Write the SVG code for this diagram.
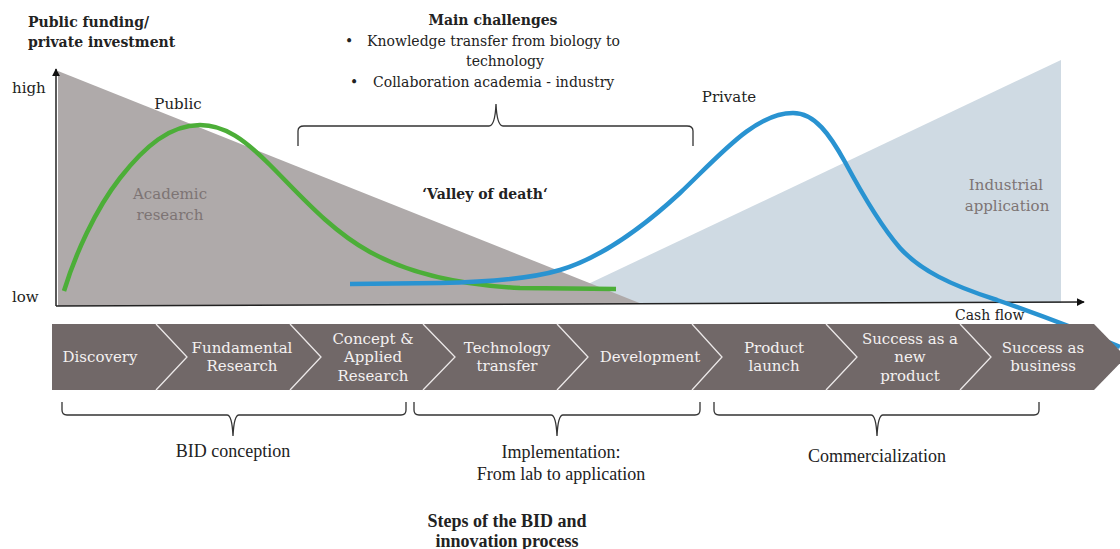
<svg xmlns="http://www.w3.org/2000/svg" width="1120" height="549" viewBox="0 0 1120 549">
<defs>
<style>
text{font-family:"DejaVu Serif","Liberation Serif",serif;fill:#222}
.b{font-weight:bold}
.t14{font-size:14px}
.t15{font-size:15px}
.grey{fill:#7d7474}
.step{font-size:15px;fill:#f4f1f1;text-anchor:middle}
.lab{font-family:"Liberation Serif",serif;font-size:18px;text-anchor:middle;fill:#222}
.mid{text-anchor:middle}
.brace{fill:none;stroke:#333;stroke-width:1.3}
.div{fill:none;stroke:#ece8e8;stroke-width:1.3}
.axis{stroke:#222;stroke-width:1.5;fill:none}
</style>
<marker id="ah" viewBox="0 0 10 10" refX="9" refY="5" markerWidth="8" markerHeight="8" markerUnits="userSpaceOnUse" orient="auto">
<path d="M0,0 L10,5 L0,10 z" fill="#111"/>
</marker>
</defs>
<rect width="1120" height="549" fill="#fff"/>

<g id="areas">
<polygon points="548,303 1061,303 1061,60" fill="#cfdae3"/>
<polygon points="58,71 58,306 642,304" fill="#afaaaa"/>
</g>

<g id="connectors">
<line class="axis" x1="56" y1="306" x2="56" y2="69" marker-end="url(#ah)"/>
<line class="axis" x1="56" y1="306" x2="1084" y2="302" marker-end="url(#ah)"/>
<path id="public-curve" d="M64,291 C75,255 95,210 120,178 C145,146 170,125 200,125 C225,125 245,140 270,165 C300,195 330,230 370,252 C410,274 460,285 520,288 L616,289" fill="none" stroke="#4cae38" stroke-width="4.5"/>
<path id="private-curve" d="M350,284 L440,283 C490,282 530,279 560,270 C600,258 640,230 680,193 C720,155 755,113 793,113 C815,113 830,135 845,162 C860,190 880,225 900,248 C920,270 950,285 997,300 C1040,315 1080,330 1120,347" fill="none" stroke="#2993d1" stroke-width="4.5"/>
</g>

<g id="axis-labels">
<text class="b t14" x="28" y="27">Public funding/</text>
<text class="b t14" x="28" y="47">private investment</text>
<text class="t15" x="12" y="93">high</text>
<text class="t15" x="12" y="302">low</text>
<text class="t15" x="955" y="320" style="font-size:14px">Cash flow</text>
</g>

<g id="challenges">
<text class="b t14 mid" x="493" y="25">Main challenges</text>
<text class="t14" x="345" y="46">•</text>
<text class="t14" x="367" y="46">Knowledge transfer from biology to</text>
<text class="t14 mid" x="505" y="66">technology</text>
<text class="t14" x="350" y="87">•</text>
<text class="t14" x="373" y="87">Collaboration academia - industry</text>
<path class="brace" d="M298,146 V131 Q298,126 304,126 H489 Q495,126 496,104 Q497,126 503,126 H687 Q693,126 693,131 V146"/>
</g>

<g id="curve-labels">
<text class="t15 mid" x="178" y="109">Public</text>
<text class="t15 mid grey" x="170" y="199">Academic</text>
<text class="t15 mid grey" x="170" y="220">research</text>
<text class="b t14 mid" x="485" y="199">‘Valley of death‘</text>
<text class="t15 mid" x="729" y="102">Private</text>
<text class="t15 mid grey" x="1006" y="190">Industrial</text>
<text class="t15 mid grey" x="1007" y="211">application</text>
</g>

<g id="process-band">
<polygon points="52,324 1094,324 1126,357 1094,390 52,390" fill="#716868"/>
<path class="div" d="M156,324 L187,357 L156,390"/>
<path class="div" d="M290,324 L321,357 L290,390"/>
<path class="div" d="M423,324 L455,357 L423,390"/>
<path class="div" d="M557,324 L588,357 L557,390"/>
<path class="div" d="M692,324 L722,357 L692,390"/>
<path class="div" d="M826,324 L857,357 L826,390"/>
<path class="div" d="M960,324 L991,357 L960,390"/>
</g>

<g id="step-discovery"><text class="step" x="100" y="362">Discovery</text></g>
<g id="step-fundamental"><text class="step" x="242" y="353">Fundamental</text><text class="step" x="242" y="371">Research</text></g>
<g id="step-concept"><text class="step" x="373" y="344">Concept &amp;</text><text class="step" x="373" y="362">Applied</text><text class="step" x="373" y="381">Research</text></g>
<g id="step-technology"><text class="step" x="507" y="353">Technology</text><text class="step" x="507" y="371">transfer</text></g>
<g id="step-development"><text class="step" x="650" y="362">Development</text></g>
<g id="step-product"><text class="step" x="774" y="353">Product</text><text class="step" x="774" y="371">launch</text></g>
<g id="step-success-product"><text class="step" x="910" y="344">Success as a</text><text class="step" x="910" y="362">new</text><text class="step" x="910" y="381">product</text></g>
<g id="step-success-business"><text class="step" x="1043" y="353">Success as</text><text class="step" x="1043" y="371">business</text></g>

<g id="phase-bid">
<path class="brace" d="M62,402 V410 Q62,415 67,415 H227 Q232,415 233,436 Q234,415 239,415 H401 Q406,415 406,410 V402"/>
<text class="lab" x="233" y="457">BID conception</text>
</g>
<g id="phase-implementation">
<path class="brace" d="M414,402 V410 Q414,415 419,415 H551 Q556,415 557,436 Q558,415 563,415 H695 Q700,415 700,410 V402"/>
<text class="lab" x="561" y="458">Implementation:</text>
<text class="lab" x="561" y="480">From lab to application</text>
</g>
<g id="phase-commercialization">
<path class="brace" d="M714,402 V410 Q714,415 719,415 H871 Q876,415 877,436 Q878,415 883,415 H1034 Q1039,415 1039,410 V402"/>
<text class="lab" x="877" y="462">Commercialization</text>
</g>

<g id="caption">
<text class="lab b" x="507" y="527">Steps of the BID and</text>
<text class="lab b" x="507" y="547">innovation process</text>
</g>
</svg>
